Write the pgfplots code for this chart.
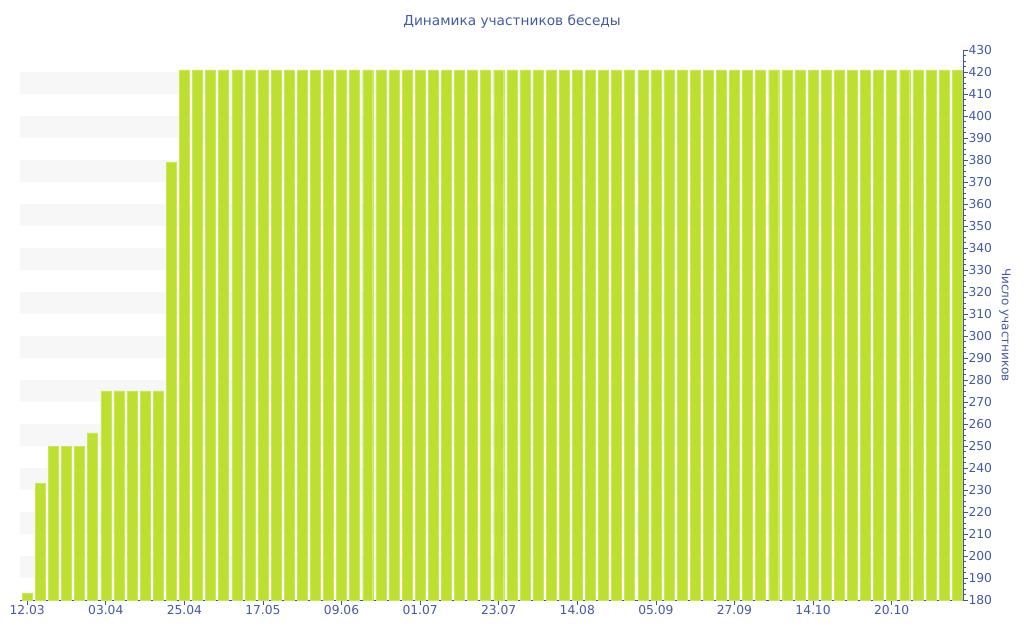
\documentclass[border=0pt]{standalone}
\usepackage{pgfplots}
\pgfplotsset{compat=1.18}
\usepackage{fontspec}
\setmainfont{DejaVu Sans}
\definecolor{barc}{HTML}{BDE030}
\definecolor{axc}{HTML}{3F51A0}
\definecolor{txc}{HTML}{4459A6}
\definecolor{band}{HTML}{F7F7F7}
\begin{document}
\begin{tikzpicture}
\begin{axis}[
  at={(20pt,40pt)}, anchor=south west,
  scale only axis, width=943pt, height=550pt,
  xmin=-0.55, xmax=71.45, ymin=180, ymax=430,
  axis x line*=bottom, axis y line*=right,
  axis line style={axc, line width=0.8pt},
  tick align=outside,
  major tick length=5pt, minor tick length=3pt,
  every tick/.style={axc, line width=0.6pt},
  xtick={0,6,12,18,24,30,36,42,48,54,60,66},
  xticklabels={12.03,03.04,25.04,17.05,09.06,01.07,23.07,14.08,05.09,27.09,14.10,20.10},
  ytick={180,190,...,430},
  minor y tick num=3,
  /pgf/number format/assume math mode=true,
  ticklabel style={font=\fontsize{12.3}{13}\selectfont, text=txc},
  xticklabel style={yshift=3.5pt},
  yticklabel style={xshift=-3pt},
  ybar, bar width=10pt,
  clip=false,
]
\pgfplotsinvokeforeach{190,210,...,410}{
  \fill[band] (axis cs:-0.55,#1) rectangle (axis cs:71.45,#1+10);
}
\addplot[fill=barc, draw=barc!80!white, bar shift=0pt] coordinates {
(0,183) (1,233) (2,250) (3,250) (4,250) (5,256) (6,275) (7,275) (8,275) (9,275)
(10,275) (11,379) (12,421) (13,421) (14,421) (15,421) (16,421) (17,421) (18,421) (19,421)
(20,421) (21,421) (22,421) (23,421) (24,421) (25,421) (26,421) (27,421) (28,421) (29,421)
(30,421) (31,421) (32,421) (33,421) (34,421) (35,421) (36,421) (37,421) (38,421) (39,421)
(40,421) (41,421) (42,421) (43,421) (44,421) (45,421) (46,421) (47,421) (48,421) (49,421)
(50,421) (51,421) (52,421) (53,421) (54,421) (55,421) (56,421) (57,421) (58,421) (59,421)
(60,421) (61,421) (62,421) (63,421) (64,421) (65,421) (66,421) (67,421) (68,421) (69,421)
(70,421) (71,421)
};
\end{axis}
\node[text=txc, font=\fontsize{13.7}{16}\selectfont] at (512pt,618pt) {Динамика участников беседы};
\node[text=txc, font=\fontsize{12}{13}\selectfont, rotate=-90] at (1005pt,315pt) {Число участников};
\path (0,0) rectangle (1024pt,640pt);
\end{tikzpicture}
\end{document}
